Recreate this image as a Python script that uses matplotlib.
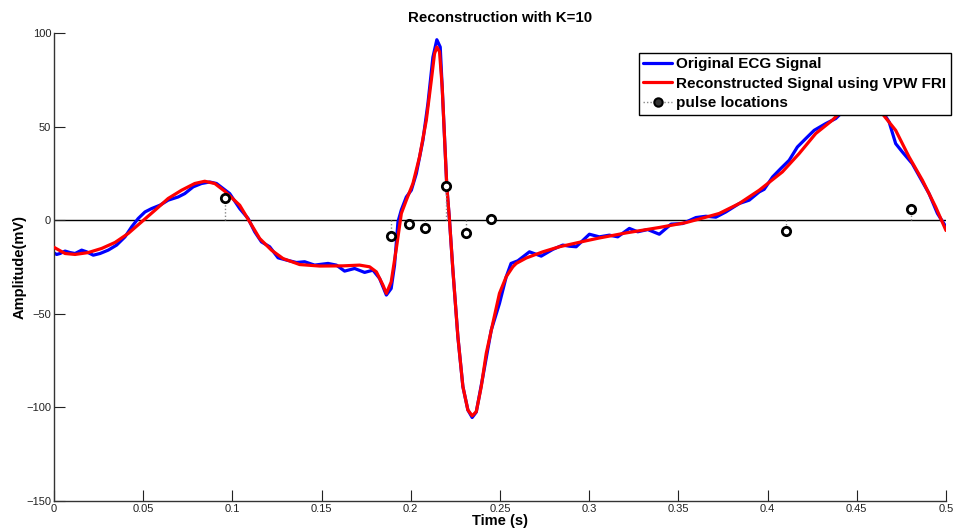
import numpy as np
import matplotlib
matplotlib.use("Agg")
import matplotlib.pyplot as plt
from matplotlib.lines import Line2D
from matplotlib.legend_handler import HandlerLine2D

plt.rcParams['font.family'] = ['Liberation Sans', 'DejaVu Sans']

# ---------------- data ----------------
orig_t = [0.0000, 0.0015, 0.0034, 0.0062, 0.0090, 0.0118, 0.0155, 0.0183, 0.0220, 0.0258,
          0.0304, 0.0351, 0.0398, 0.0435, 0.0472, 0.0510, 0.0547, 0.0594, 0.0640, 0.0696,
          0.0733, 0.0780, 0.0827, 0.0873, 0.0911, 0.0948, 0.0985, 0.1041, 0.1088, 0.1125,
          0.1163, 0.1209, 0.1256, 0.1303, 0.1359, 0.1405, 0.1461, 0.1536, 0.1583, 0.1629,
          0.1685, 0.1741, 0.1788, 0.1825, 0.1863, 0.1890, 0.1909, 0.1928, 0.1947, 0.1975,
          0.2003, 0.2031, 0.2068, 0.2096, 0.2124, 0.2146, 0.2165, 0.2176, 0.2189, 0.2202,
          0.2217, 0.2236, 0.2264, 0.2292, 0.2320, 0.2344, 0.2367, 0.2404, 0.2451, 0.2497,
          0.2535, 0.2562, 0.2600, 0.2665, 0.2731, 0.2796, 0.2852, 0.2889, 0.2927, 0.3001,
          0.3057, 0.3113, 0.3160, 0.3225, 0.3272, 0.3328, 0.3393, 0.3459, 0.3524, 0.3598,
          0.3654, 0.3710, 0.3766, 0.3841, 0.3897, 0.3953, 0.3981, 0.4028, 0.4074, 0.4121,
          0.4167, 0.4214, 0.4261, 0.4326, 0.4382, 0.4410, 0.4470, 0.4530, 0.4590, 0.4634,
          0.4681, 0.4718, 0.4755, 0.4811, 0.4858, 0.4905, 0.4952, 0.5000]
orig_v = [-17.5, -18.3, -17.8, -16.5, -17.3, -17.8, -16.0, -16.9, -18.7, -17.8,
          -16.0, -13.3, -8.9, -3.6, 0.9, 4.4, 6.2, 8.0, 10.7, 12.4,
          14.2, 17.8, 19.6, 20.4, 19.6, 16.9, 14.2, 6.2, 0.9, -6.2,
          -11.6, -14.2, -20.1, -21.3, -22.6, -22.2, -24.0, -23.1, -24.0, -27.2,
          -25.8, -27.9, -26.7, -31.1, -40.0, -36.5, -24.0, -0.9, 5.5, 12.4,
          16.0, 24.9, 42.7, 62.3, 87.1, 96.4, 92.5, 71.1, 44.4, 17.8,
          0.0, -26.7, -62.3, -88.9, -101.4, -105.4, -102.5, -83.6, -58.7, -44.5,
          -30.2, -23.1, -21.7, -16.9, -19.2, -15.6, -13.3, -13.9, -14.2, -7.5,
          -8.9, -8.0, -8.9, -4.4, -6.2, -5.0, -7.5, -2.1, -1.8, 1.4,
          2.1, 1.6, 4.4, 8.9, 10.7, 15.1, 16.5, 23.1, 27.6, 32.0,
          39.1, 43.6, 48.0, 51.6, 54.3, 56.9, 62.0, 64.0, 62.5, 59.6,
          52.5, 40.9, 36.5, 30.2, 22.2, 14.2, 3.6, -3.6]

rec_t = [0.0000, 0.0062, 0.0118, 0.0192, 0.0267, 0.0342, 0.0416, 0.0491, 0.0566, 0.0640,
         0.0715, 0.0789, 0.0845, 0.0901, 0.0957, 0.1041, 0.1097, 0.1153, 0.1219, 0.1284,
         0.1377, 0.1489, 0.1620, 0.1713, 0.1769, 0.1807, 0.1844, 0.1863, 0.1890, 0.1919,
         0.1947, 0.1975, 0.2012, 0.2049, 0.2087, 0.2115, 0.2133, 0.2146, 0.2161, 0.2176,
         0.2189, 0.2202, 0.2217, 0.2236, 0.2264, 0.2292, 0.2320, 0.2344, 0.2367, 0.2395,
         0.2423, 0.2460, 0.2497, 0.2535, 0.2572, 0.2591, 0.2647, 0.2740, 0.2833, 0.2983,
         0.3057, 0.3207, 0.3393, 0.3542, 0.3673, 0.3729, 0.3803, 0.3841, 0.3953, 0.4083,
         0.4177, 0.4270, 0.4363, 0.4419, 0.4480, 0.4540, 0.4600, 0.4643, 0.4718, 0.4793,
         0.4868, 0.4942, 0.5000]
rec_v = [-14.5, -17.8, -18.3, -17.3, -15.1, -11.9, -7.1, -0.9, 5.3, 11.6,
         16.0, 19.6, 20.8, 19.6, 15.5, 8.0, -0.9, -9.8, -16.0, -20.5,
         -23.7, -24.5, -24.4, -24.0, -24.9, -27.6, -34.7, -39.1, -33.0, -15.1,
         3.6, 10.7, 19.6, 33.8, 53.4, 74.7, 88.9, 92.5, 90.0, 71.1,
         44.4, 17.8, 0.0, -26.7, -62.3, -88.9, -101.4, -104.5, -102.3, -88.9,
         -71.1, -55.0, -39.1, -30.2, -24.9, -23.1, -20.2, -16.9, -14.2, -11.0,
         -9.5, -6.8, -3.9, -1.3, 2.1, 3.6, 7.1, 8.9, 16.0, 25.8,
         35.6, 46.3, 53.4, 58.7, 62.0, 63.0, 60.0, 56.9, 48.0, 33.8,
         21.3, 7.1, -5.5]

pulse_t = [0.0957, 0.1887, 0.1988, 0.2077, 0.2195, 0.2312, 0.2447, 0.4104, 0.4804]
pulse_v = [11.8, -8.5, -2.1, -4.3, 18.2, -7.0, 0.5, -5.9, 5.9]

x_ticks = [0, 0.05, 0.1, 0.15, 0.2, 0.25, 0.3, 0.35, 0.4, 0.45, 0.5]
x_tick_labels = ['0', '0.05', '0.1', '0.15', '0.2', '0.25', '0.3', '0.35', '0.4', '0.45', '0.5']
y_ticks = [-150, -100, -50, 0, 50, 100]

labels = ['Original ECG Signal', 'Reconstructed Signal using VPW FRI', 'pulse locations']

# ---------------- figure ----------------
fig = plt.figure(figsize=(9.54, 5.32), dpi=100)
ax = fig.add_axes([0.0566, 0.0583, 0.9350, 0.8797])

ax.axhline(0, color='black', lw=1.0, zorder=1)
l1, = ax.plot(orig_t, orig_v, color='#0000ff', lw=2.3, zorder=2,
              solid_joinstyle='round', solid_capstyle='round')
l2, = ax.plot(rec_t, rec_v, color='#ff0000', lw=2.3, zorder=3,
              solid_joinstyle='round', solid_capstyle='round')
ax.vlines(pulse_t, 0, pulse_v, colors='#888888', linestyles=(0, (1, 1.5)), lw=1.0, zorder=4)
ax.plot(pulse_t, pulse_v, ls='none', marker='o', ms=6, mfc='white', mec='black', mew=2.0, zorder=5)

ax.set_xlim(0, 0.5)
ax.set_ylim(-150, 100)
ax.set_xticks(x_ticks)
ax.set_xticklabels(x_tick_labels)
ax.set_yticks(y_ticks)
ax.tick_params(direction='in', length=8, width=0.8, labelsize=8, pad=2, colors='#222222')
for s in ['top', 'right']:
    ax.spines[s].set_visible(False)
for s in ['left', 'bottom']:
    ax.spines[s].set_linewidth(1.0)
    ax.spines[s].set_color('#333333')

ax.set_title('Reconstruction with K=10', fontsize=10.8, fontweight='bold', pad=8)
ax.set_xlabel('Time (s)', fontsize=10.5, fontweight='bold', labelpad=0)
ax.set_ylabel('Amplitude(mV)', fontsize=10.5, fontweight='bold', labelpad=0)


class StemHandler(HandlerLine2D):
    def get_xdata(self, legend, xdescent, ydescent, width, height, fontsize):
        xdata = np.array([-xdescent, -xdescent + width])
        xdata_marker = np.array([-xdescent + width * 0.85])
        return xdata, xdata_marker


h3 = Line2D([0], [0], color='#888888', ls=(0, (1, 1.5)), lw=1.0, marker='o', ms=6,
            mfc='#333333', mec='black', mew=1.5)
leg = ax.legend([l1, l2, h3], labels, loc='upper right',
                bbox_to_anchor=(951 / 954, 1 - 52.5 / 532), bbox_transform=fig.transFigure,
                prop={'weight': 'bold', 'size': 11}, frameon=True, fancybox=False,
                edgecolor='black', framealpha=1, borderpad=0.3, labelspacing=0.36,
                handlelength=1.85, handletextpad=0.3, borderaxespad=0, numpoints=1,
                handler_map={h3: StemHandler()})
leg.get_frame().set_linewidth(1.0)
leg.set_zorder(10)

fig.savefig('out.png', dpi=100)
